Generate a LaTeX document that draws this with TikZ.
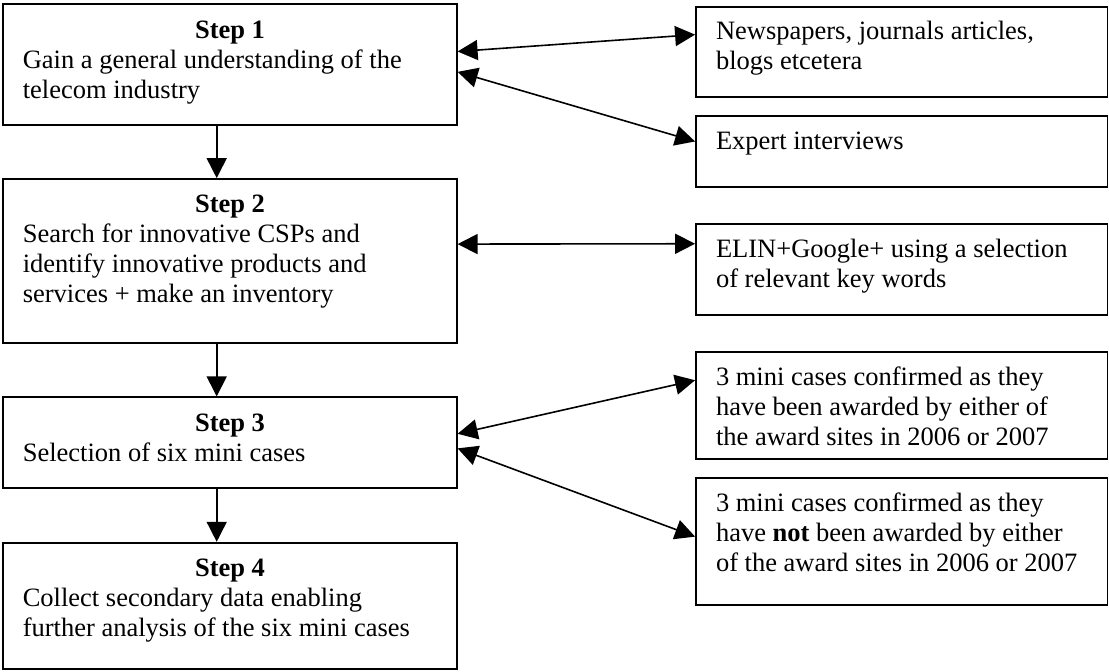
\documentclass[tikz,border=0pt]{standalone}
\usepackage{fontspec}
\setmainfont{Liberation Serif}
\usetikzlibrary{arrows.meta,calc,fit}

\newcommand\diagfont{\fontsize{13.25}{15}\selectfont}
\newcommand\lines[1]{\begin{tabular}[t]{@{}l@{}}#1\end{tabular}}

\tikzset{
  box/.style={draw, line width=0.9pt, inner sep=0pt},
  head/.style={anchor=base, inner sep=0pt, font=\diagfont\bfseries},
  body/.style={anchor=base west, inner sep=0pt, font=\diagfont},
  tip/.style={Triangle[length=10pt,width=10pt]},
  link/.style={line width=0.8pt, {Triangle[length=10pt,width=10pt]}-{Triangle[length=10pt,width=10pt]}},
  flow/.style={line width=0.8pt, -{Triangle[length=10pt,width=10pt]}},
}

\begin{document}
\begin{tikzpicture}[x=0.5pt, y=-0.5pt]
  \useasboundingbox (0,0) rectangle (1109,671);
  \fill[white] (0,0) rectangle (1109,671);

  % steps on the left
  \node[box, fit={(3.3,4) (456.7,125)}] (s1) {};
  \node[box, fit={(3.3,179) (456.7,343)}] (s2) {};
  \node[box, fit={(3.3,397.3) (456.7,488.3)}] (s3) {};
  \node[box, fit={(3.3,542.7) (456.7,669)}] (s4) {};

  \node[head] (s1h) at ($(s1.north)+(0,35.5)$) {Step 1};
  \node[body] (s1t) at ($(s1.north west)+(20,65.5)$)
    {\lines{Gain a general understanding of the\\ telecom industry}};
  \node[head] (s2h) at ($(s2.north)+(0,34.5)$) {Step 2};
  \node[body] (s2t) at ($(s2.north west)+(20,64.5)$)
    {\lines{Search for innovative CSPs and\\ identify innovative products and\\ services + make an inventory}};
  \node[head] (s3h) at ($(s3.north)+(0,35)$) {Step 3};
  \node[body] (s3t) at ($(s3.north west)+(20,65)$)
    {\lines{Selection of six mini cases}};
  \node[head] (s4h) at ($(s4.north)+(0,35)$) {Step 4};
  \node[body] (s4t) at ($(s4.north west)+(20,65)$)
    {\lines{Collect secondary data enabling\\ further analysis of the six mini cases}};

  % sources and outcomes on the right
  \node[box, fit={(696,6.7) (1107.5,97.3)}] (r1) {};
  \node[box, fit={(696,116) (1107.5,187)}] (r2) {};
  \node[box, fit={(696,224.3) (1107.5,315)}] (r3) {};
  \node[box, fit={(696,352) (1107.5,459.3)}] (r4) {};
  \node[box, fit={(696,478.3) (1107.5,605)}] (r5) {};

  \node[body] (r1t) at ($(r1.north west)+(20.5,34)$)
    {\lines{Newspapers, journals articles,\\ blogs etcetera}};
  \node[body] (r2t) at ($(r2.north west)+(20.5,34)$)
    {\lines{Expert interviews}};
  \node[body] (r3t) at ($(r3.north west)+(20.5,34)$)
    {\lines{ELIN+Google+ using a selection\\ of relevant key words}};
  \node[body] (r4t) at ($(r4.north west)+(20.5,34)$)
    {\lines{3 mini cases confirmed as they\\ have been awarded by either of\\ the award sites in 2006 or 2007}};
  \node[body] (r5t) at ($(r5.north west)+(20.5,34)$)
    {\lines{3 mini cases confirmed as they\\ have \textbf{not} been awarded by either\\ of the award sites in 2006 or 2007}};

  % flow between the steps
  \coordinate (ax) at (216.7,0);
  \draw[flow] (s1.south -| ax) -- (s2.north -| ax);
  \draw[flow] (s2.south -| ax) -- (s3.north -| ax);
  \draw[flow] (s3.south -| ax) -- (s4.north -| ax);

  % two-way links to the right-hand boxes
  \draw[link] ($(s1.north east)!0.394!(s1.south east)$) -- ($(r1.north west)!0.312!(r1.south west)$);
  \draw[link] ($(s1.north east)!0.560!(s1.south east)$) -- ($(r2.north west)!0.362!(r2.south west)$);
  \draw[link] ($(s2.north east)!0.398!(s2.south east)$) -- ($(r3.north west)!0.220!(r3.south west)$);
  \draw[link] ($(s3.north east)!0.403!(s3.south east)$) -- ($(r4.north west)!0.267!(r4.south west)$);
  \draw[link] ($(s3.north east)!0.560!(s3.south east)$) -- ($(r5.north west)!0.461!(r5.south west)$);
\end{tikzpicture}
\end{document}
